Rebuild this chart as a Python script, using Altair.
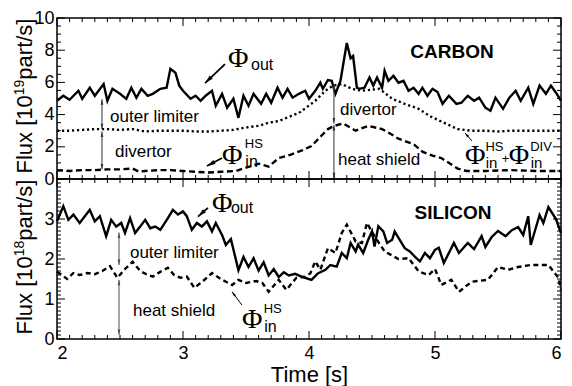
import math
import altair as alt
import pandas as pd

# ---------------- data ----------------
# CARBON panel, units 1e19 part/s
carbon_out_t = [2.00, 2.05, 2.10, 2.17, 2.20, 2.26, 2.30, 2.37, 2.40, 2.44,
                2.50, 2.55, 2.59, 2.63, 2.67, 2.72, 2.76, 2.82, 2.87, 2.90,
                2.94, 2.97, 3.00, 3.06, 3.10, 3.14, 3.18, 3.23, 3.26, 3.31,
                3.35, 3.40, 3.44, 3.48, 3.52, 3.56, 3.62, 3.66, 3.70, 3.75,
                3.79, 3.83, 3.87, 3.92, 3.97, 4.00, 4.05, 4.09, 4.11, 4.15,
                4.18, 4.21, 4.25, 4.30, 4.33, 4.35, 4.38, 4.40, 4.44, 4.48,
                4.51, 4.54, 4.58, 4.60, 4.63, 4.67, 4.71, 4.75, 4.79, 4.83,
                4.87, 4.90, 4.94, 4.98, 5.02, 5.06, 5.11, 5.17, 5.21, 5.26,
                5.31, 5.35, 5.40, 5.44, 5.48, 5.54, 5.59, 5.64, 5.68, 5.74,
                5.78, 5.83, 5.88, 5.92, 5.96, 6.00]
carbon_out_v = [4.86, 5.17, 4.92, 5.48, 4.98, 5.67, 5.17, 5.90, 4.86, 5.60,
                5.29, 4.98, 5.67, 5.05, 5.60, 5.17, 5.29, 5.60, 5.67, 6.84,
                6.60, 5.80, 5.48, 4.98, 5.17, 4.86, 5.17, 5.48, 4.55, 5.29,
                4.43, 4.98, 3.80, 5.17, 4.55, 5.29, 4.67, 5.29, 4.74, 5.67,
                5.05, 5.60, 5.05, 5.29, 5.48, 4.98, 5.48, 5.98, 5.60, 6.15,
                6.10, 5.29, 6.10, 8.45, 7.50, 7.64, 5.67, 5.60, 5.67, 6.30,
                5.80, 6.30, 5.67, 6.72, 6.10, 6.41, 5.98, 6.10, 5.48, 5.67,
                5.29, 5.67, 5.17, 5.60, 5.40, 4.67, 5.17, 4.67, 4.74, 5.17,
                4.86, 5.05, 4.43, 4.24, 5.05, 4.36, 5.05, 5.48, 4.86, 5.67,
                4.67, 5.80, 5.29, 5.80, 5.36, 4.86]

carbon_sum_t = [2.0, 2.1, 2.2, 2.3, 2.4, 2.5, 2.6, 2.7, 2.8, 2.9,
                3.0, 3.1, 3.2, 3.3, 3.4, 3.5, 3.6, 3.68, 3.76, 3.84,
                3.92, 3.98, 4.05, 4.13, 4.19, 4.26, 4.34, 4.42, 4.5, 4.56,
                4.66, 4.76, 4.87, 4.96, 5.07, 5.18, 5.29, 5.4, 5.5, 5.6,
                5.7, 5.8, 5.9, 6.0]
carbon_sum_v = [3.0, 3.0, 3.05, 3.1, 3.1, 3.05, 3.1, 2.95, 3.0, 3.0,
                3.0, 2.95, 2.95, 3.0, 3.05, 3.2, 3.3, 3.5, 3.6, 3.86,
                4.1, 4.45, 4.86, 5.48, 5.8, 5.9, 5.6, 5.48, 5.55, 5.6,
                4.98, 4.67, 4.36, 3.9, 3.5, 3.1, 3.0, 3.0, 2.95, 3.0,
                3.0, 3.0, 3.0, 3.0]

carbon_hs_t = [2.0, 2.1, 2.2, 2.3, 2.4, 2.5, 2.6, 2.65, 2.7, 2.8,
               2.9, 3.0, 3.1, 3.2, 3.3, 3.42, 3.5, 3.6, 3.68, 3.76,
               3.85, 3.95, 4.02, 4.1, 4.15, 4.2, 4.27, 4.37, 4.47, 4.58,
               4.65, 4.71, 4.8, 4.84, 4.9, 4.98, 5.05, 5.1, 5.18, 5.25,
               5.4, 5.6, 5.8, 6.0]
carbon_hs_v = [0.55, 0.5, 0.55, 0.55, 0.6, 0.6, 0.65, 0.45, 0.5, 0.55,
               0.55, 0.5, 0.45, 0.4, 0.45, 0.5, 0.7, 0.95, 0.77, 1.3,
               1.5, 1.8, 2.05, 2.7, 3.1, 3.3, 3.45, 3.0, 3.3, 3.1,
               2.8, 2.5, 2.25, 2.1, 1.7, 1.45, 1.3, 1.05, 0.65, 0.5,
               0.5, 0.55, 0.5, 0.5]

# SILICON panel, units 1e18 part/s
silicon_out_t = [2.00, 2.05, 2.09, 2.13, 2.18, 2.26, 2.30, 2.34, 2.39, 2.43,
                 2.47, 2.51, 2.54, 2.58, 2.62, 2.66, 2.70, 2.74, 2.78, 2.82,
                 2.88, 2.92, 2.96, 3.00, 3.03, 3.07, 3.11, 3.15, 3.19, 3.23,
                 3.26, 3.31, 3.34, 3.38, 3.44, 3.48, 3.52, 3.56, 3.60, 3.64,
                 3.68, 3.72, 3.76, 3.80, 3.84, 3.89, 3.95, 4.02, 4.07, 4.13,
                 4.17, 4.22, 4.26, 4.30, 4.33, 4.37, 4.39, 4.43, 4.47, 4.50,
                 4.52, 4.55, 4.59, 4.62, 4.66, 4.68, 4.72, 4.76, 4.80, 4.84,
                 4.88, 4.92, 4.96, 5.00, 5.03, 5.07, 5.15, 5.19, 5.26, 5.31,
                 5.37, 5.40, 5.45, 5.50, 5.56, 5.61, 5.66, 5.70, 5.74, 5.76,
                 5.83, 5.86, 5.90, 5.96, 6.00]
silicon_out_v = [2.94, 3.32, 2.98, 3.11, 2.90, 3.23, 2.94, 3.07, 2.57, 2.98,
                 2.81, 2.90, 2.65, 3.02, 2.65, 2.81, 2.98, 2.77, 2.81, 2.73,
                 3.02, 3.23, 3.11, 3.19, 3.07, 2.73, 2.90, 2.81, 2.94, 2.69,
                 2.90, 2.60, 2.35, 2.50, 1.72, 2.05, 1.80, 2.02, 1.71, 1.92,
                 1.59, 1.75, 1.55, 1.67, 1.59, 1.63, 1.55, 1.48, 1.64, 1.73,
                 1.85, 1.81, 2.15, 2.02, 2.40, 2.19, 2.36, 2.15, 2.48, 2.69,
                 2.31, 2.82, 2.69, 2.40, 2.48, 2.69, 2.48, 2.27, 2.19, 2.06,
                 1.94, 2.15, 2.02, 2.23, 2.28, 1.90, 2.40, 2.15, 2.40, 2.25,
                 2.57, 2.30, 2.55, 2.70, 2.57, 2.72, 2.80, 2.60, 3.07, 2.35,
                 3.10, 2.90, 3.30, 3.00, 2.65]

silicon_hs_t = [2.00, 2.04, 2.08, 2.13, 2.18, 2.24, 2.30, 2.36, 2.42, 2.48,
                2.54, 2.60, 2.66, 2.71, 2.76, 2.83, 2.88, 2.93, 2.98, 3.03,
                3.09, 3.16, 3.23, 3.30, 3.39, 3.44, 3.50, 3.58, 3.63, 3.68,
                3.76, 3.82, 3.90, 3.97, 4.01, 4.05, 4.09, 4.15, 4.21, 4.26,
                4.30, 4.37, 4.42, 4.46, 4.52, 4.60, 4.71, 4.79, 4.87, 4.95,
                5.00, 5.05, 5.13, 5.19, 5.29, 5.42, 5.50, 5.58, 5.66, 5.76,
                5.90, 5.98, 6.00]
silicon_hs_v = [1.68, 1.60, 1.50, 1.65, 1.60, 1.65, 1.62, 1.70, 1.82, 1.53,
                1.75, 1.93, 1.70, 1.62, 1.56, 1.70, 1.78, 1.60, 1.53, 1.56,
                1.28, 1.45, 1.65, 1.50, 1.35, 1.48, 1.40, 1.45, 1.40, 1.18,
                1.48, 1.23, 1.53, 1.56, 1.64, 1.94, 1.73, 2.27, 2.15, 2.65,
                2.86, 2.44, 2.40, 2.90, 2.57, 2.19, 2.00, 2.02, 1.69, 1.60,
                1.75, 1.35, 1.48, 1.18, 1.43, 1.48, 1.80, 1.73, 1.80, 1.85,
                1.85, 1.53, 1.23]

x_labels = [2, 3, 4, 5, 6]
top_y_labels = [0, 2, 4, 6, 8, 10]
bot_y_labels = [0, 1, 2, 3]

# ---------------- layout / style ----------------
W = 504
H_TOP = 161
H_BOT = 160
SANS = "Liberation Sans"
SERIF = "Liberation Serif"
ARROW = "M0,0L-0.45,1.8L0.45,1.8Z"

x_scale = alt.Scale(domain=[2, 6], nice=False, zero=False)


def frange(a, b, step):
    n = int(round((b - a) / step))
    return [round(a + i * step, 4) for i in range(n + 1)]


def make_panel(H, ymax, y_labels, y_major, y_minor, show_x, lines, sans_texts,
               phis, bold_text, arrows, darrows, dcolor, title_sup):
    y_scale = alt.Scale(domain=[0, ymax], nice=False, zero=False)
    y_axis = alt.Axis(values=y_labels, ticks=False, domain=False, grid=False,
                      labelFont=SANS, labelFontSize=18, labelColor="black",
                      labelPadding=3, title=None, format="d")
    if show_x:
        x_axis = alt.Axis(values=x_labels, ticks=False, domain=False, grid=False,
                          labelFont=SANS, labelFontSize=18, labelColor="black",
                          labelPadding=5, title="Time [s]", titleFont=SANS,
                          titleFontSize=22, titleFontWeight="normal",
                          titleColor="black", titlePadding=2, format="d")
    else:
        x_axis = None

    def X(f):
        return alt.X(f, scale=x_scale, axis=x_axis)

    def Y(f):
        return alt.Y(f, scale=y_scale, axis=y_axis)

    layers = []
    # data lines
    for t, v, dash in lines:
        df = pd.DataFrame({"t": t, "v": v})
        kw = dict(color="black", strokeWidth=2.4)
        if dash:
            kw["strokeDash"] = dash
        layers.append(alt.Chart(df).mark_line(**kw).encode(x=X("t:Q"), y=Y("v:Q")))

    # inward ticks
    xs_all = frange(2, 6, 0.1)
    xt_major = pd.DataFrame({"t": x_labels})
    xt_minor = pd.DataFrame({"t": [x for x in xs_all if abs(x - round(x)) > 1e-6]})
    ys_minor = frange(0, ymax, y_minor)
    yt_major = pd.DataFrame({"v": frange(0, ymax, y_major)})
    yt_minor = pd.DataFrame({"v": [y for y in ys_minor
                                   if abs(y / y_major - round(y / y_major)) > 1e-6]})
    tick = dict(color="black", strokeWidth=1)
    for df, ln in ((xt_major, 8), (xt_minor, 4)):
        layers.append(alt.Chart(df).mark_rule(**tick).encode(
            x=X("t:Q"), y=alt.value(H), y2=alt.value(H - ln)))
        layers.append(alt.Chart(df).mark_rule(**tick).encode(
            x=X("t:Q"), y=alt.value(0), y2=alt.value(ln)))
    for df, ln in ((yt_major, 8), (yt_minor, 4)):
        layers.append(alt.Chart(df).mark_rule(**tick).encode(
            y=Y("v:Q"), x=alt.value(0), x2=alt.value(ln)))
        layers.append(alt.Chart(df).mark_rule(**tick).encode(
            y=Y("v:Q"), x=alt.value(W), x2=alt.value(W - ln)))

    # double arrows (vertical)
    if darrows:
        dfd = pd.DataFrame(darrows, columns=["t", "v1", "v2"])
        layers.append(alt.Chart(dfd).mark_rule(color=dcolor, strokeWidth=1).encode(
            x=X("t:Q"), y=Y("v1:Q"), y2="v2:Q"))
        heads = []
        for t, v1, v2 in darrows:
            heads.append((t, max(v1, v2), 0.0))
            heads.append((t, min(v1, v2), 180.0))
        dfh = pd.DataFrame(heads, columns=["t", "v", "ang"])
        layers.append(alt.Chart(dfh).mark_point(shape=ARROW, filled=True, color=dcolor,
                                                size=36, opacity=1).encode(
            x=X("t:Q"), y=Y("v:Q"), angle=alt.Angle("ang:Q", scale=None)))

    # slanted pointer arrows
    if arrows:
        rows = []
        for t1, v1, t2, v2, wdt, hs in arrows:
            dx = (t2 - t1) * W / 4.0
            dy = -(v2 - v1) * H / ymax
            ang = math.degrees(math.atan2(dx, -dy)) % 360
            rows.append((t1, v1, t2, v2, ang, wdt, hs))
        dfa = pd.DataFrame(rows, columns=["t1", "v1", "t2", "v2", "ang", "w", "hs"])
        for (wdt, hs), grp in dfa.groupby(["w", "hs"]):
            layers.append(alt.Chart(grp).mark_rule(color="black", strokeWidth=wdt).encode(
                x=X("t1:Q"), y=Y("v1:Q"), x2="t2:Q", y2="v2:Q"))
            layers.append(alt.Chart(grp).mark_point(shape=ARROW, filled=True, color="black",
                                                    size=hs, opacity=1).encode(
                x=X("t2:Q"), y=Y("v2:Q"), angle=alt.Angle("ang:Q", scale=None)))

    # texts
    dft = pd.DataFrame(sans_texts, columns=["label", "t", "v", "size"])
    layers.append(alt.Chart(dft).mark_text(font=SANS, align="left", baseline="alphabetic",
                                           color="black").encode(
        x=X("t:Q"), y=Y("v:Q"), text="label:N",
        size=alt.Size("size:Q", scale=None, legend=None)))
    dfp = pd.DataFrame(phis, columns=["t", "v"])
    dfp["label"] = "\u03a6"
    layers.append(alt.Chart(dfp).mark_text(font=SERIF, fontSize=28, align="left",
                                           baseline="alphabetic", color="black").encode(
        x=X("t:Q"), y=Y("v:Q"), text="label:N"))
    dfb = pd.DataFrame([bold_text], columns=["label", "t", "v"])
    layers.append(alt.Chart(dfb).mark_text(font=SANS, fontSize=19, fontWeight="bold",
                                           align="center", baseline="alphabetic",
                                           color="black").encode(
        x=X("t:Q"), y=Y("v:Q"), text="label:N"))

    # rotated y title with superscript
    one = pd.DataFrame({"a": [0]})
    fs_main, fs_sup = 22, 14
    w1 = 3.557 * fs_main
    w2 = 1.112 * fs_sup
    w3 = 2.779 * fs_main
    base_y = 78 + (w1 + w2 + w3) / 2
    parts = [("Flux [10", -25, base_y, fs_main),
             (title_sup, -33, base_y - w1, fs_sup),
             ("part/s]", -25, base_y - w1 - w2, fs_main)]
    for txt, px, py, fs in parts:
        layers.append(alt.Chart(one).mark_text(text=txt, font=SANS, fontSize=fs, angle=270,
                                               align="left", baseline="alphabetic",
                                               color="black").encode(
            x=alt.value(px), y=alt.value(py)))

    return alt.layer(*layers).properties(width=W, height=H)


top = make_panel(
    H_TOP, 10, top_y_labels, 2, 0.5, False,
    lines=[(carbon_out_t, carbon_out_v, None),
           (carbon_sum_t, carbon_sum_v, [2.2, 2.8]),
           (carbon_hs_t, carbon_hs_v, [6, 3.5])],
    sans_texts=[("outer limiter", 2.421, 3.54, 17), ("divertor", 2.46, 1.37, 17),
                ("divertor", 4.246, 3.98, 17), ("heat shield", 4.23, 0.87, 17),
                ("out", 3.54, 6.77, 16), ("HS", 3.49, 1.93, 13), ("in", 3.495, 0.75, 16),
                ("HS", 5.40, 1.74, 13), ("in", 5.403, 0.68, 15), ("+", 5.53, 1.0, 13),
                ("DIV", 5.755, 1.74, 13), ("in", 5.76, 0.68, 15)],
    phis=[(3.357, 6.96), (3.31, 0.93), (5.238, 0.93), (5.585, 0.93)],
    bold_text=("CARBON", 5.135, 7.52),
    arrows=[(3.333, 7.14, 3.175, 5.96, 1.8, 90),
            (3.31, 1.30, 3.19, 0.81, 1.8, 90),
            (5.294, 2.36, 5.238, 2.86, 1.0, 30)],
    darrows=[(2.357, 4.95, 3.1), (2.357, 2.95, 0.6), (4.198, 5.85, 3.45), (4.198, 3.35, 0.05)],
    dcolor="#333333", title_sup="19")

bottom = make_panel(
    H_BOT, 4, bot_y_labels, 1, 0.1, True,
    lines=[(silicon_out_t, silicon_out_v, None),
           (silicon_hs_t, silicon_hs_v, [5, 3.5])],
    sans_texts=[("outer limiter", 2.579, 2.03, 17), ("heat shield", 2.603, 0.58, 17),
                ("out", 3.38, 3.16, 16), ("HS", 3.64, 0.65, 13), ("in", 3.645, 0.18, 16)],
    phis=[(3.23, 3.18), (3.468, 0.28)],
    bold_text=("SILICON", 5.143, 3.0),
    arrows=[(3.198, 3.28, 3.119, 3.06, 1.8, 90),
            (3.468, 0.85, 3.389, 1.18, 1.0, 30)],
    darrows=[(2.492, 2.66, 1.85), (2.492, 1.48, 0.1)],
    dcolor="#445544", title_sup="18")

chart = alt.vconcat(top, bottom, spacing=0, bounds="flush").properties(
    padding={"left": 12, "top": 8, "right": 4, "bottom": 4},
    background="white",
).configure_view(stroke="black", strokeWidth=1.5)

chart.save("out.html", embed_options={"renderer": "svg", "actions": False})
